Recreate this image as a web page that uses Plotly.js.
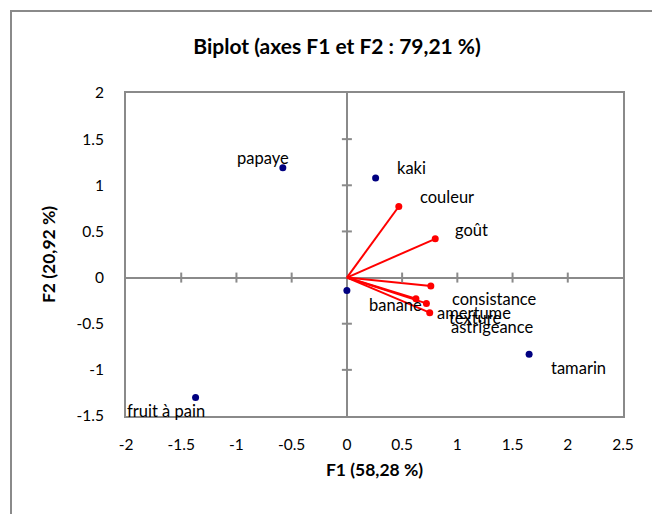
<!DOCTYPE html>
<html>
<head>
<meta charset="utf-8">
<script src="https://cdn.plot.ly/plotly-3.0.1.min.js"></script>
<style>
  body { margin:0; background:#fff; }
  #frame { position:absolute; left:10px; top:10px; width:640px; height:520px; border:2px solid #8a8a8a; pointer-events:none; z-index:2; }
  #chart { position:absolute; left:0; top:0; width:652px; height:514px; }
</style>
</head>
<body>
<div id="chart"></div>
<div id="frame"></div>
<script>
// Observations
const obsNames = ["papaye", "kaki", "banane", "tamarin", "fruit à pain"];
const obsF1 = [-0.58, 0.26, 0.00, 1.65, -1.37];
const obsF2 = [1.19, 1.08, -0.14, -0.83, -1.30];

// Variables
const varNames = ["couleur", "goût", "consistance", "amertume", "texture", "astrigeance"];
const varF1 = [0.47, 0.80, 0.76, 0.625, 0.72, 0.75];
const varF2 = [0.77, 0.42, -0.09, -0.23, -0.28, -0.38];

// Tick values
const xTicks = [-2, -1.5, -1, -0.5, 0, 0.5, 1, 1.5, 2, 2.5];
const yTicks = [-1.5, -1, -0.5, 0, 0.5, 1, 1.5, 2];

// label offsets (style, px)
const obsLabelStyle = [
  {xa:"center", dx:-20, dy:10},
  {xa:"left", dx:19, dy:10},
  {xa:"left", dx:20, dy:-15},
  {xa:"left", dx:20, dy:-14},
  {xa:"right", dx:11, dy:-13}
];
const varLabelStyle = [
  {xa:"left", dx:19, dy:10},
  {xa:"left", dx:18, dy:9},
  {xa:"left", dx:19, dy:-13},
  {xa:"left", dx:19, dy:-14},
  {xa:"left", dx:21, dy:-15},
  {xa:"left", dx:19, dy:-14}
];

const FONT = "Lato, 'Open Sans', sans-serif";
const LBL = 16.5;

// vector lines
const lx = [], ly = [];
varF1.forEach((v, i) => { lx.push(0, v, null); ly.push(0, varF2[i], null); });

const traces = [
  { x: lx, y: ly, mode: "lines", line: {color: "#ff0000", width: 2}, hoverinfo: "skip", showlegend: false },
  { x: varF1, y: varF2, text: varNames, mode: "markers", marker: {color: "#ff0000", size: 7}, showlegend: false },
  { x: obsF1, y: obsF2, text: obsNames, mode: "markers", marker: {color: "#000080", size: 7}, showlegend: false }
];

const annotations = [];
obsNames.forEach((n, i) => annotations.push({
  x: obsF1[i], y: obsF2[i], text: n, showarrow: false,
  xanchor: obsLabelStyle[i].xa, yanchor: "middle",
  xshift: obsLabelStyle[i].dx, yshift: obsLabelStyle[i].dy,
  font: {family: FONT, size: LBL, color: "#000"}
}));
varNames.forEach((n, i) => annotations.push({
  x: varF1[i], y: varF2[i], text: n, showarrow: false,
  xanchor: varLabelStyle[i].xa, yanchor: "middle",
  xshift: varLabelStyle[i].dx, yshift: varLabelStyle[i].dy,
  font: {family: FONT, size: LBL, color: "#000"}
}));

// cross tick marks on the zero lines
const shapes = [];
xTicks.filter(t => t !== 0 && t !== xTicks[0] && t !== xTicks[xTicks.length-1]).forEach(t => shapes.push({
  type: "line", xref: "x", yref: "y", ysizemode: "pixel", yanchor: 0,
  x0: t, x1: t, y0: -5, y1: 5, line: {color: "#8a8a8a", width: 2}
}));
yTicks.filter(t => t !== 0 && t !== yTicks[0] && t !== yTicks[yTicks.length-1]).forEach(t => shapes.push({
  type: "line", xref: "x", yref: "y", xsizemode: "pixel", xanchor: 0,
  y0: t, y1: t, x0: -5, x1: 5, line: {color: "#8a8a8a", width: 2}
}));

const layout = {
  width: 652, height: 514,
  margin: {l: 126, r: 29, t: 93, b: 98},
  paper_bgcolor: "#ffffff", plot_bgcolor: "#ffffff",
  font: {family: FONT, size: 15, color: "#000"},
  title: {
    text: "<b>Biplot (axes F1 et F2 : 79,21 %)</b>",
    font: {family: FONT, size: 21, color: "#000"},
    xref: "container", x: 0.517, xanchor: "center",
    yref: "container", y: 1 - 47/514, yanchor: "middle"
  },
  xaxis: {
    range: [-2, 2.5], tickvals: xTicks, ticktext: xTicks.map(String),
    showgrid: false, zeroline: true, zerolinecolor: "#8a8a8a", zerolinewidth: 2,
    showline: true, mirror: true, linecolor: "#8a8a8a", linewidth: 2,
    ticks: "", ticklabelstandoff: 13,
    tickfont: {family: FONT, size: 15.5, color: "#000"},
    title: {text: "<b>F1 (58,28 %)</b>", font: {family: FONT, size: 17.5, color: "#000"}, standoff: 12}
  },
  yaxis: {
    range: [-1.5, 2], tickvals: yTicks, ticktext: yTicks.map(String),
    showgrid: false, zeroline: true, zerolinecolor: "#8a8a8a", zerolinewidth: 2,
    showline: true, mirror: true, linecolor: "#8a8a8a", linewidth: 2,
    ticks: "", ticklabelstandoff: 17,
    tickfont: {family: FONT, size: 15.5, color: "#000"},
    title: {text: "<b>F2 (20,92 %)</b>", font: {family: FONT, size: 17.5, color: "#000"}, standoff: 16}
  },
  annotations: annotations,
  shapes: shapes
};

Plotly.newPlot("chart", traces, layout, {displayModeBar: false, staticPlot: true});
</script>
</body>
</html>
